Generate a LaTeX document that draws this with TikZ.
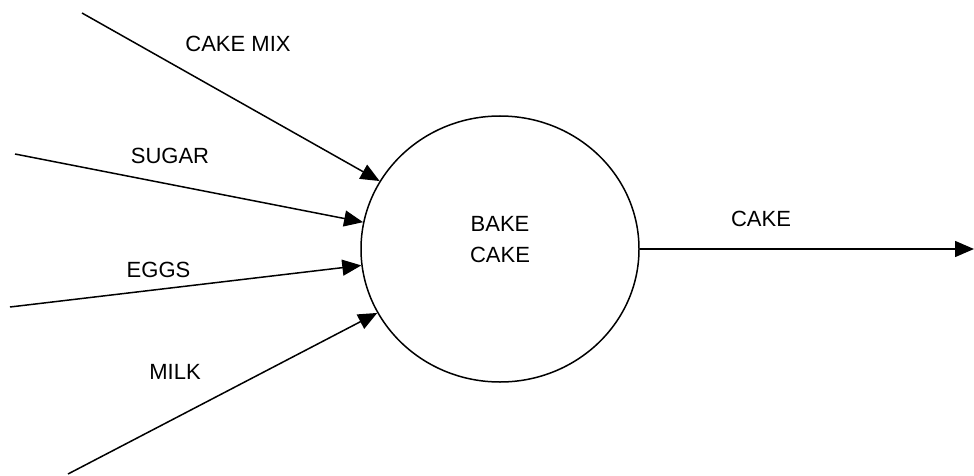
\documentclass[tikz,border=0pt]{standalone}
\usepackage{fontspec}
\setmainfont{Liberation Sans}
\usetikzlibrary{shapes.geometric,arrows.meta}
\begin{document}
\begin{tikzpicture}[x=1pt,y=-1pt,
  flow/.style={line width=1.5pt,-{Triangle[length=19pt,width=16pt]}},
  lbl/.style={inner sep=0pt,font=\fontsize{22}{31}\selectfont},
  proc/.style={ellipse,draw,line width=1.5pt,minimum width=278pt,minimum height=266pt,inner sep=0pt}]
\useasboundingbox (0,0) rectangle (974,476);
\node[proc] (bake) at (500,249) {};
\node[lbl,align=center] (bakelbl) at (500,239.5) {BAKE\\CAKE};
\coordinate (s1) at (82,13);
\coordinate (s2) at (15,154);
\coordinate (s3) at (10,307);
\coordinate (s4) at (68,474);
\coordinate (out) at (974,249);
\draw[flow] (s1) -- (bake);
\draw[flow] (s2) -- (bake);
\draw[flow] (s3) -- (bake);
\draw[flow] (s4) -- (bake);
\draw[flow] (bake.east) -- (out);
\node[lbl] (l1) at (238,43.5) {CAKE MIX};
\node[lbl] (l2) at (170,155.5) {SUGAR};
\node[lbl] (l3) at (158.5,270) {EGGS};
\node[lbl] (l4) at (175,371.5) {MILK};
\node[lbl] (l5) at (761,219) {CAKE};
\end{tikzpicture}
\end{document}
